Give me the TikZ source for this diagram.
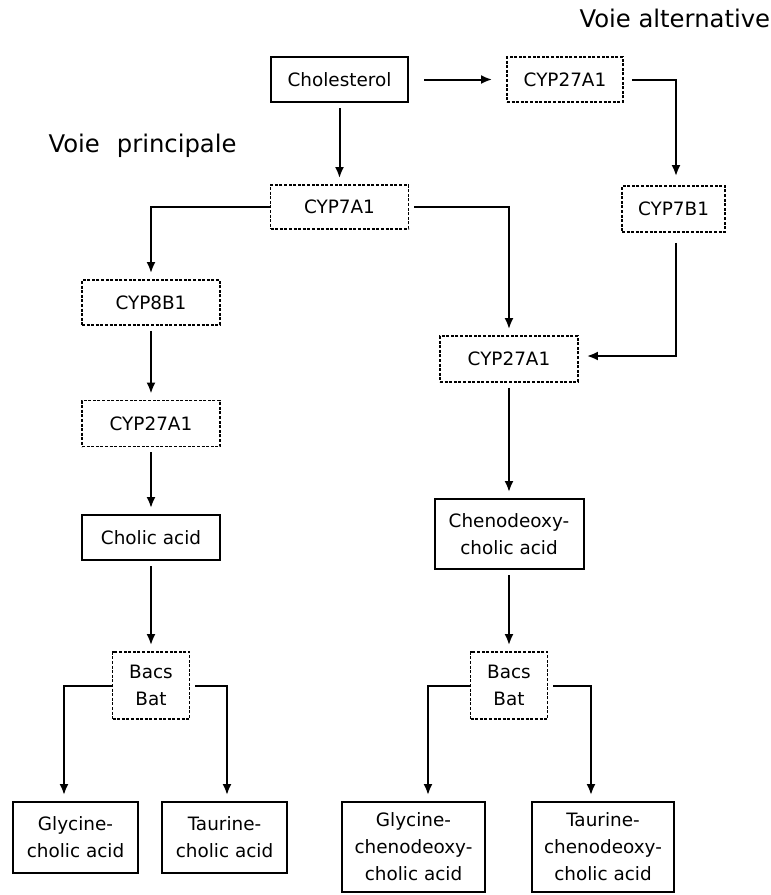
\documentclass[tikz,border=0pt]{standalone}
\usepackage{fontspec}
\setmainfont{DejaVu Sans}
\usetikzlibrary{arrows.meta}

\begin{document}
\begin{tikzpicture}[x=1pt, y=-1pt,
        font=\fontsize{18.4}{27}\selectfont,
        solidbox/.style={draw, line width=2pt, inner sep=0pt, align=center},
        enzbox/.style={draw, line width=1.9pt, dash pattern=on 3pt off 1.6pt, inner sep=0pt, align=center},
        arr/.style={line width=2pt, -{Latex[length=11pt,width=9pt]}, shorten <=5pt, shorten >=6pt},
        title/.style={anchor=base west, font=\fontsize{24.3}{28}\selectfont}]

            \useasboundingbox (0,0) rectangle (771,895);

            \node[title] (alttitle) at (576, 27) {Voie alternative};
            \node[title] (maintitle) at (45, 152) {Voie\hspace{0.7em}principale};

            \node[solidbox, minimum width=137pt, minimum height=45pt] (chol) at (339.5, 79.5) {Cholesterol};
            \node[enzbox, minimum width=116pt, minimum height=45pt] (alt27) at (565, 79.5) {CYP27A1};
            \node[enzbox, minimum width=138pt, minimum height=44pt] (cyp7a1) at (339.5, 207) {CYP7A1};
            \node[enzbox, minimum width=103pt, minimum height=46pt] (cyp7b1) at (673.5, 209) {CYP7B1};

            \node[enzbox, minimum width=138pt, minimum height=45pt] (cyp8b1) at (151, 302.5) {CYP8B1};
            \node[enzbox, minimum width=138pt, minimum height=46pt] (cyp27l) at (151, 423.5) {CYP27A1};
            \node[solidbox, minimum width=138pt, minimum height=45pt] (cholic) at (151, 537.5) {Cholic acid};
            \node[enzbox, minimum width=77pt, minimum height=67pt] (bacsl) at (151, 685.5) {Bacs\\Bat};
            \node[solidbox, minimum width=125pt, minimum height=71pt] (glyl) at (75.5, 837.5) {Glycine-\\cholic acid};
            \node[solidbox, minimum width=125pt, minimum height=71pt] (taul) at (224.5, 837.5) {Taurine-\\cholic acid};

            \node[enzbox, minimum width=138pt, minimum height=46pt] (cyp27r) at (509, 359) {CYP27A1};
            \node[solidbox, minimum width=149pt, minimum height=70pt] (cheno) at (509, 534) {Chenodeoxy-\\cholic acid};
            \node[enzbox, minimum width=77pt, minimum height=67pt] (bacsr) at (509, 685.5) {Bacs\\Bat};
            \node[solidbox, minimum width=143pt, minimum height=90pt] (glyr) at (413.5, 847) {Glycine-\\chenodeoxy-\\cholic acid};
            \node[solidbox, minimum width=142pt, minimum height=90pt] (taur) at (603, 847) {Taurine-\\chenodeoxy-\\cholic acid};

            \draw[arr, shorten <=15pt, shorten >=14pt] (chol) -- (alt27);
            \draw[arr] (chol) -- (cyp7a1);
            \draw[arr, shorten <=8pt, shorten >=9pt] (alt27.east) -| ([xshift=2.5pt]cyp7b1.north);
            \draw[arr, shorten <=0pt] (cyp7a1.west) -| (cyp8b1.north);
            \draw[arr] (cyp7a1.east) -| (cyp27r.north);
            \draw[arr, shorten <=10pt, shorten >=8pt] ([xshift=2.5pt]cyp7b1.south) |- ([yshift=3pt]cyp27r.east);

            \draw[arr] (cyp8b1) -- (cyp27l);
            \draw[arr] (cyp27l) -- (cholic);
            \draw[arr] (cholic) -- (bacsl);
            \draw[arr, shorten <=0pt] (bacsl.west) -| ([xshift=-11.5pt]glyl.north);
            \draw[arr] (bacsl.east) -| ([xshift=2.5pt]taul.north);

            \draw[arr] (cyp27r) -- (cheno);
            \draw[arr] (cheno) -- (bacsr);
            \draw[arr, shorten <=0pt] (bacsr.west) -| ([xshift=14.5pt]glyr.north);
            \draw[arr] (bacsr.east) -| ([xshift=-12pt]taur.north);
        \end{tikzpicture}
\end{document}
